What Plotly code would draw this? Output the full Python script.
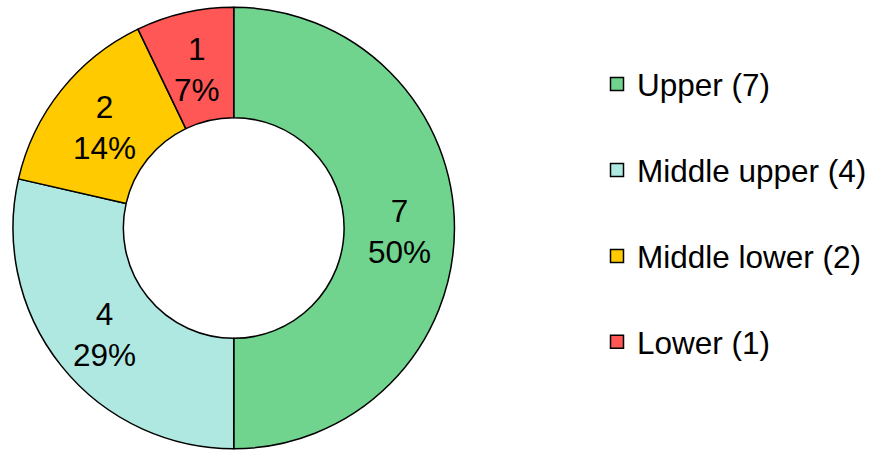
import math
import plotly.graph_objects as go

# Income groups and counts
categories = ["Upper", "Middle upper", "Middle lower", "Lower"]
counts = [7, 4, 2, 1]
colors = ["#70D48F", "#AEE8E1", "#FFCA00", "#FF5656"]

FONT = "Arial, 'Liberation Sans', sans-serif"
SIZE = 31.5
W, H = 872, 451

# Pie placement in pixels (left, right, bottom, top)
dom_x = [13, 455]
dom_y = [2, 444]
hole = 0.5

fig = go.Figure()

fig.add_trace(go.Pie(
    labels=categories,
    values=counts,
    hole=hole,
    sort=False,
    direction="clockwise",
    rotation=0,
    marker=dict(colors=colors, line=dict(color="black", width=1.5)),
    textinfo="none",
    domain=dict(x=[dom_x[0] / W, dom_x[1] / W], y=[dom_y[0] / H, dom_y[1] / H]),
    showlegend=False,
    hoverinfo="label+value+percent",
))

# Slice labels: value and rounded share, centred in the ring at each slice's mid-angle
total = sum(counts)
cx = (dom_x[0] + dom_x[1]) / 2
cy = (dom_y[0] + dom_y[1]) / 2
radius = min(dom_x[1] - dom_x[0], dom_y[1] - dom_y[0]) / 2
r_mid = radius * (1 + hole) / 2
start = 0
for n in counts:
    ang = 2 * math.pi * (start + n / 2) / total
    start += n
    px = cx + r_mid * math.sin(ang)
    py = cy + r_mid * math.cos(ang)
    fig.add_annotation(
        x=px / W, y=py / H, xref="paper", yref="paper",
        text=f"{n}<br>{round(100 * n / total)}%",
        showarrow=False, xanchor="center", yanchor="middle", yshift=-3,
        font=dict(family=FONT, size=SIZE, color="black"),
    )

# Legend entries, one group per category so they can be spaced apart
for name, n, c in zip(categories, counts, colors):
    fig.add_trace(go.Scatter(
        x=[None], y=[None],
        mode="markers",
        name=f"{name} ({n})",
        legendgroup=name,
        marker=dict(symbol="square", size=13, color=c,
                    line=dict(color="black", width=1.5)),
        showlegend=True,
    ))

fig.update_layout(
    width=W,
    height=H,
    margin=dict(l=0, r=0, t=0, b=0),
    paper_bgcolor="white",
    plot_bgcolor="white",
    xaxis=dict(visible=False),
    yaxis=dict(visible=False),
    font=dict(family=FONT, size=SIZE, color="black"),
    legend=dict(
        x=598 / W,
        y=1 - 57 / H,
        xanchor="left",
        yanchor="top",
        traceorder="grouped",
        tracegroupgap=42,
        font=dict(family=FONT, size=SIZE, color="black"),
        bgcolor="rgba(0,0,0,0)",
    ),
)

fig.write_html("out.html")
